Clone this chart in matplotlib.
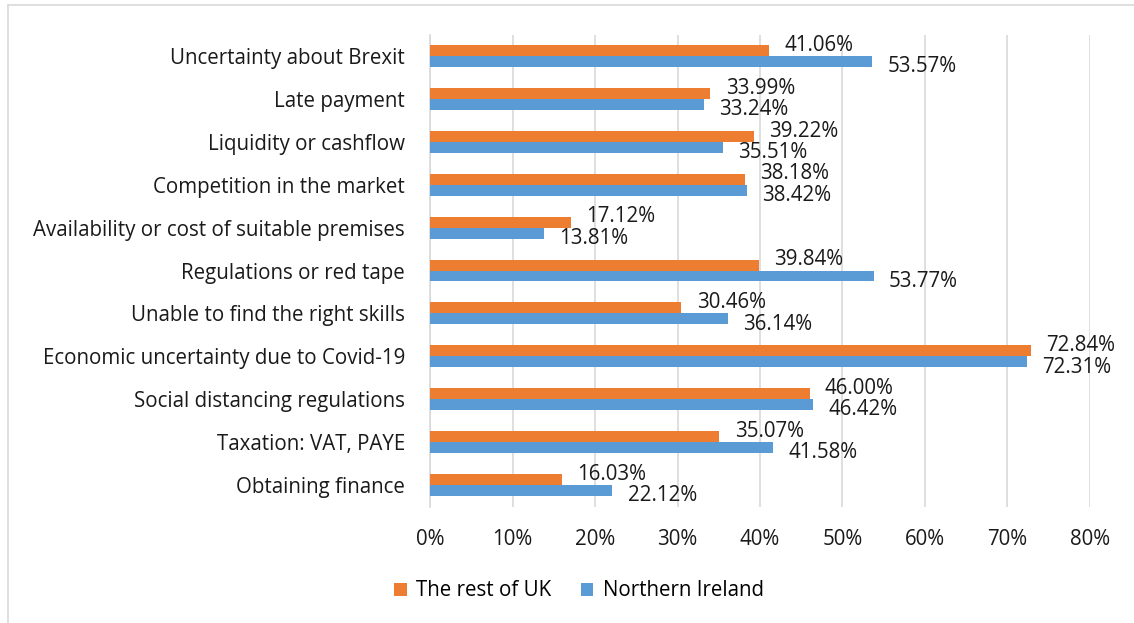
import matplotlib.pyplot as plt
from matplotlib.lines import Line2D
from matplotlib.ticker import FuncFormatter
import numpy as np

plt.rcParams['font.family'] = ['Open Sans', 'DejaVu Sans']

categories = ['Uncertainty about Brexit', 'Late payment', 'Liquidity or cashflow',
              'Competition in the market', 'Availability or cost of suitable premises',
              'Regulations or red tape', 'Unable to find the right skills',
              'Economic uncertainty due to Covid-19', 'Social distancing regulations',
              'Taxation: VAT, PAYE', 'Obtaining finance']
rest_uk = [41.06, 33.99, 39.22, 38.18, 17.12, 39.84, 30.46, 72.84, 46.00, 35.07, 16.03]
northern_ireland = [53.57, 33.24, 35.51, 38.42, 13.81, 53.77, 36.14, 72.31, 46.42, 41.58, 22.12]
xticks = [0, 10, 20, 30, 40, 50, 60, 70, 80]

orange = '#ed7d31'
blue = '#5b9bd5'
fs = 14.8

fig = plt.figure(figsize=(11.34, 6.23), dpi=100)
ax = fig.add_axes([430/1134, 1-506.5/623, 660/1134, 472/623])

y = np.arange(len(categories))
h = 0.255
ax.barh(y - h/2, rest_uk, height=h, color=orange, label='The rest of UK', zorder=3)
ax.barh(y + h/2, northern_ireland, height=h, color=blue, label='Northern Ireland', zorder=3)

for i in range(len(categories)):
    ax.annotate('%.2f%%' % rest_uk[i], (rest_uk[i], y[i] - h/2), xytext=(11, 3.8),
                textcoords='offset points', ha='left', va='center', fontsize=fs, color='#1a1a1a')
    ax.annotate('%.2f%%' % northern_ireland[i], (northern_ireland[i], y[i] + h/2), xytext=(11, -3.8),
                textcoords='offset points', ha='left', va='center', fontsize=fs, color='#1a1a1a')

ax.set_xlim(0, 80)
ax.set_ylim(len(categories) - 0.5, -0.5)
ax.set_yticks(y)
ax.set_yticklabels(categories, fontsize=fs, color='#1a1a1a')
ax.set_xticks(xticks)
ax.xaxis.set_major_formatter(FuncFormatter(lambda v, p: '%d%%' % v))
ax.tick_params(axis='x', labelsize=fs, colors='#1a1a1a', length=0, pad=16)
ax.tick_params(axis='y', length=0, pad=18)
ax.grid(axis='x', color='#d9d9d9', linewidth=1.2, zorder=0)
for s in ['top', 'right', 'bottom']:
    ax.spines[s].set_visible(False)
ax.spines['left'].set_color('#d9d9d9')
ax.spines['left'].set_linewidth(1.2)

fig.legend(loc='center', bbox_to_anchor=(579/1134, 1-591/623), ncol=2, frameon=False,
           fontsize=fs, handlelength=0.63, handleheight=0.63, columnspacing=1.4, handletextpad=0.45)

# chart border
fig.add_artist(Line2D([8/1134, 8/1134], [0, 1-5/623], color='#d9d9d9', lw=1.2))
fig.add_artist(Line2D([8/1134, 1], [1-5/623, 1-5/623], color='#d9d9d9', lw=1.2))

fig.savefig('out.png', dpi=100)
